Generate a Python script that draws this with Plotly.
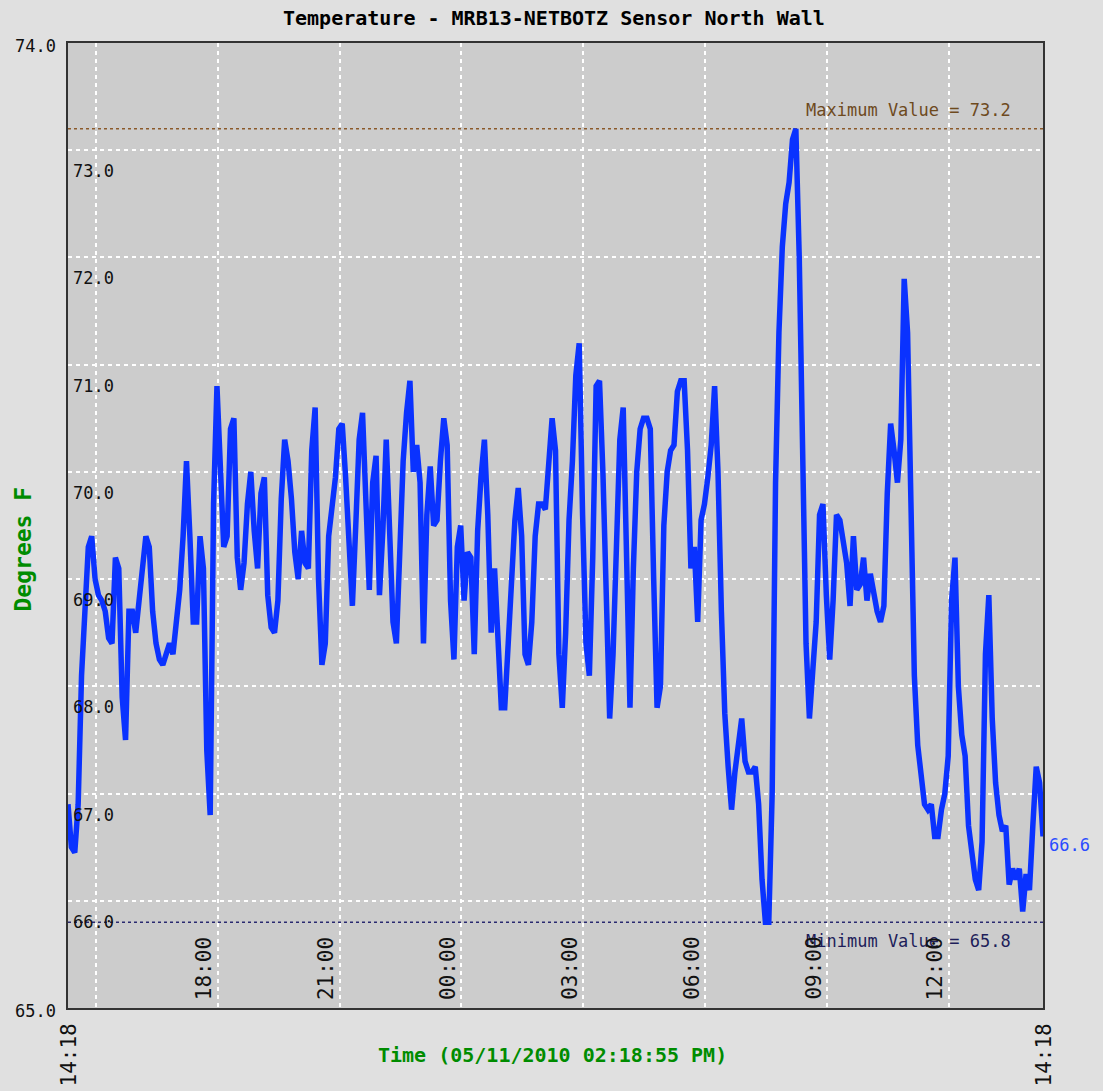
import plotly.graph_objects as go
import pandas as pd

# ---------------- data ----------------
start_time = "2010-05-10 14:18:55"
sample_minutes = 5

temps = [
    66.9, 66.5, 66.45, 66.9, 68.1, 68.85, 69.3, 69.4, 69.0, 68.85,
    68.8, 68.7, 68.45, 68.4, 69.2, 69.1, 67.9, 67.5, 68.7, 68.7,
    68.5, 68.8, 69.1, 69.4, 69.3, 68.7, 68.4, 68.25, 68.2, 68.3,
    68.4, 68.3, 68.6, 68.9, 69.4, 70.1, 69.4, 68.6, 68.6, 69.4,
    69.1, 67.4, 66.8, 69.7, 70.8, 70.1, 69.3, 69.4, 70.4, 70.5,
    69.2, 68.9, 69.15, 69.7, 70.0, 69.45, 69.1, 69.8, 69.95, 68.85,
    68.55, 68.5, 68.8, 69.75, 70.3, 70.1, 69.75, 69.25, 69.0, 69.45,
    69.15, 69.1, 70.2, 70.6, 69.0, 68.2, 68.4, 69.4, 69.65, 69.95,
    70.4, 70.45, 69.95, 69.3, 68.75, 69.5, 70.3, 70.55, 69.6, 68.9,
    69.9, 70.15, 68.85, 69.45, 70.3, 69.5, 68.6, 68.4, 69.3, 70.1,
    70.55, 70.85, 70.0, 70.25, 69.9, 68.4, 69.6, 70.05, 69.5, 69.55,
    70.1, 70.5, 70.25, 68.8, 68.25, 69.3, 69.5, 68.8, 69.25, 69.2,
    68.3, 69.45, 69.95, 70.3, 69.6, 68.5, 69.1, 68.4, 67.8, 67.8,
    68.4, 69.0, 69.55, 69.85, 69.4, 68.3, 68.2, 68.6, 69.4, 69.7,
    69.7, 69.65, 70.15, 70.5, 70.2, 68.3, 67.8, 68.5, 69.55, 70.1,
    70.9, 71.2, 69.6, 68.4, 68.1, 69.2, 70.8, 70.85, 70.0, 68.6,
    67.7, 68.3, 69.3, 70.3, 70.6, 69.3, 67.8, 69.1, 70.0, 70.4,
    70.5, 70.5, 70.4, 69.0, 67.8, 68.0, 69.5, 70.0, 70.2, 70.25,
    70.75, 70.85, 70.85, 70.2, 69.1, 69.3, 68.6, 69.55, 69.7, 69.95,
    70.25, 70.8, 70.0, 68.7, 67.75, 67.25, 66.85, 67.2, 67.5, 67.7,
    67.3, 67.2, 67.2, 67.25, 66.9, 66.2, 65.8, 65.8, 67.0, 69.9,
    71.3, 72.1, 72.5, 72.7, 73.1, 73.2, 72.0, 69.9, 68.4, 67.7,
    68.2, 68.6, 69.6, 69.7, 68.85, 68.25, 68.8, 69.6, 69.55, 69.35,
    69.15, 68.75, 69.4, 68.9, 68.95, 69.2, 68.8, 69.05, 68.85, 68.7,
    68.6, 68.75, 69.8, 70.45, 70.2, 69.9, 70.3, 71.8, 71.3, 69.7,
    68.1, 67.45, 67.2, 66.9, 66.85, 66.9, 66.6, 66.6, 66.85, 67.0,
    67.35, 68.8, 69.2, 68.0, 67.55, 67.35, 66.7, 66.45, 66.2, 66.1,
    66.55, 68.3, 68.85, 67.7, 67.1, 66.8, 66.65, 66.7, 66.15, 66.3,
    66.2, 66.3, 65.9, 66.25, 66.1, 66.7, 67.25, 67.1, 66.6,
]

y_range = [65.0, 74.0]
y_tick_values = [74.0, 73.0, 72.0, 71.0, 70.0, 69.0, 68.0, 67.0, 66.0, 65.0]
y_grid_values = [73.0, 72.0, 71.0, 70.0, 69.0, 68.0, 67.0, 66.0]

x_grid_times = ["2010-05-10 15:00", "2010-05-10 18:00", "2010-05-10 21:00",
                "2010-05-11 00:00", "2010-05-11 03:00", "2010-05-11 06:00",
                "2010-05-11 09:00", "2010-05-11 12:00"]
x_label_times = ["2010-05-10 18:00", "2010-05-10 21:00", "2010-05-11 00:00",
                 "2010-05-11 03:00", "2010-05-11 06:00", "2010-05-11 09:00",
                 "2010-05-11 12:00"]
x_label_texts = ["18:00", "21:00", "00:00", "03:00", "06:00", "09:00", "12:00"]
x_edge_text = "14:18"

title_text = "Temperature - MRB13-NETBOTZ Sensor North Wall"
x_title = "Time (05/11/2010 02:18:55 PM)"
y_title = "Degrees F"

# ---------------- figure ----------------
times = pd.date_range(start_time, periods=len(temps), freq=f"{sample_minutes}min")
vmax = max(temps)
vmin = min(temps)
vlast = temps[-1]

MONO = "DejaVu Sans Mono"
GREEN = "#008c00"
LINE_BLUE = "#0a32ff"

fig = go.Figure()
fig.add_trace(go.Scatter(x=times, y=temps, mode="lines",
                         line=dict(color=LINE_BLUE, width=5.5),
                         hoverinfo="x+y", showlegend=False))

axis_common = dict(showticklabels=False, ticks="", showgrid=True,
                   gridcolor="white", gridwidth=1.5, griddash="4px,4px",
                   showline=True, mirror=True, linecolor="#333333", linewidth=2,
                   zeroline=False, fixedrange=True)

fig.update_layout(
    width=1103, height=1091,
    margin=dict(l=68, r=60, t=43, b=83),
    paper_bgcolor="#e0e0e0", plot_bgcolor="#cccccc",
    xaxis=dict(range=[times[0], times[-1]], tickvals=x_grid_times, **axis_common),
    yaxis=dict(range=y_range, tickvals=y_grid_values, **axis_common),
    font=dict(family=MONO, size=17, color="#111111"),
    showlegend=False,
)

# max / min reference lines
fig.add_shape(type="line", xref="paper", x0=0, x1=1, yref="y", y0=vmax, y1=vmax,
              line=dict(color="#8b5a2b", width=1.5, dash="dot"), layer="between")
fig.add_shape(type="line", xref="paper", x0=0, x1=1, yref="y", y0=vmin, y1=vmin,
              line=dict(color="#2a2a70", width=1.5, dash="dot"), layer="between")

ann = []
ann.append(dict(xref="paper", yref="y", x=1, y=vmax, xanchor="right", yanchor="middle",
                xshift=-30, yshift=19, text=f"Maximum Value = {vmax:.1f}", showarrow=False,
                font=dict(family=MONO, size=17, color="#6e4a1e")))
ann.append(dict(xref="paper", yref="y", x=1, y=vmin, xanchor="right", yanchor="middle",
                xshift=-30, yshift=-19, text=f"Minimum Value = {vmin:.1f}", showarrow=False,
                font=dict(family=MONO, size=17, color="#1e1e5a")))
ann.append(dict(xref="paper", yref="y", x=1, y=vlast, xanchor="left", yanchor="middle",
                xshift=4, yshift=-9, text=f"{vlast:.1f}", showarrow=False,
                font=dict(family=MONO, size=17, color="#2a4cff")))

# y tick labels
for v in y_tick_values:
    if v in (y_range[0], y_range[1]):
        ann.append(dict(xref="paper", yref="y", x=0, y=v, xanchor="right", yanchor="middle",
                        xshift=-10, yshift=-3, text=f"{v:.1f}", showarrow=False,
                        font=dict(family=MONO, size=17, color="#111111")))
    else:
        ann.append(dict(xref="paper", yref="y", x=0, y=v, xanchor="left", yanchor="middle",
                        xshift=3, yshift=-21, text=f"{v:.1f}", showarrow=False,
                        font=dict(family=MONO, size=17, color="#111111")))

# x tick labels (rotated)
for t, lab in zip(x_label_times, x_label_texts):
    ann.append(dict(xref="x", yref="paper", x=t, y=0, xanchor="center", yanchor="bottom",
                    xshift=-14, yshift=6, text=lab, textangle=-90, showarrow=False,
                    font=dict(family=MONO, size=21, color="#111111")))
for t in (times[0], times[-1]):
    ann.append(dict(xref="x", yref="paper", x=t, y=0, xanchor="center", yanchor="top",
                    yshift=-14, text=x_edge_text, textangle=-90, showarrow=False,
                    font=dict(family=MONO, size=21, color="#111111")))

# titles
ann.append(dict(xref="paper", yref="paper", x=0.5, y=1, xanchor="center", yanchor="middle",
                xshift=-2, yshift=25, text=f"<b>{title_text}</b>", showarrow=False,
                font=dict(family=MONO, size=20, color="#000000")))
ann.append(dict(xref="paper", yref="paper", x=0.5, y=0, xanchor="center", yanchor="middle",
                xshift=-3, yshift=-47, text=f"<b>{x_title}</b>", showarrow=False,
                font=dict(family=MONO, size=20, color=GREEN)))
ann.append(dict(xref="paper", yref="paper", x=0, y=0.5, xanchor="center", yanchor="middle",
                xshift=-46, yshift=-24, text=f"<b>{y_title}</b>", textangle=-90, showarrow=False,
                font=dict(family=MONO, size=23, color=GREEN)))

fig.update_layout(annotations=ann)

fig.write_html("out.html", config={"displayModeBar": False},
               post_script="document.body.style.margin='0';document.body.style.overflow='hidden';")
